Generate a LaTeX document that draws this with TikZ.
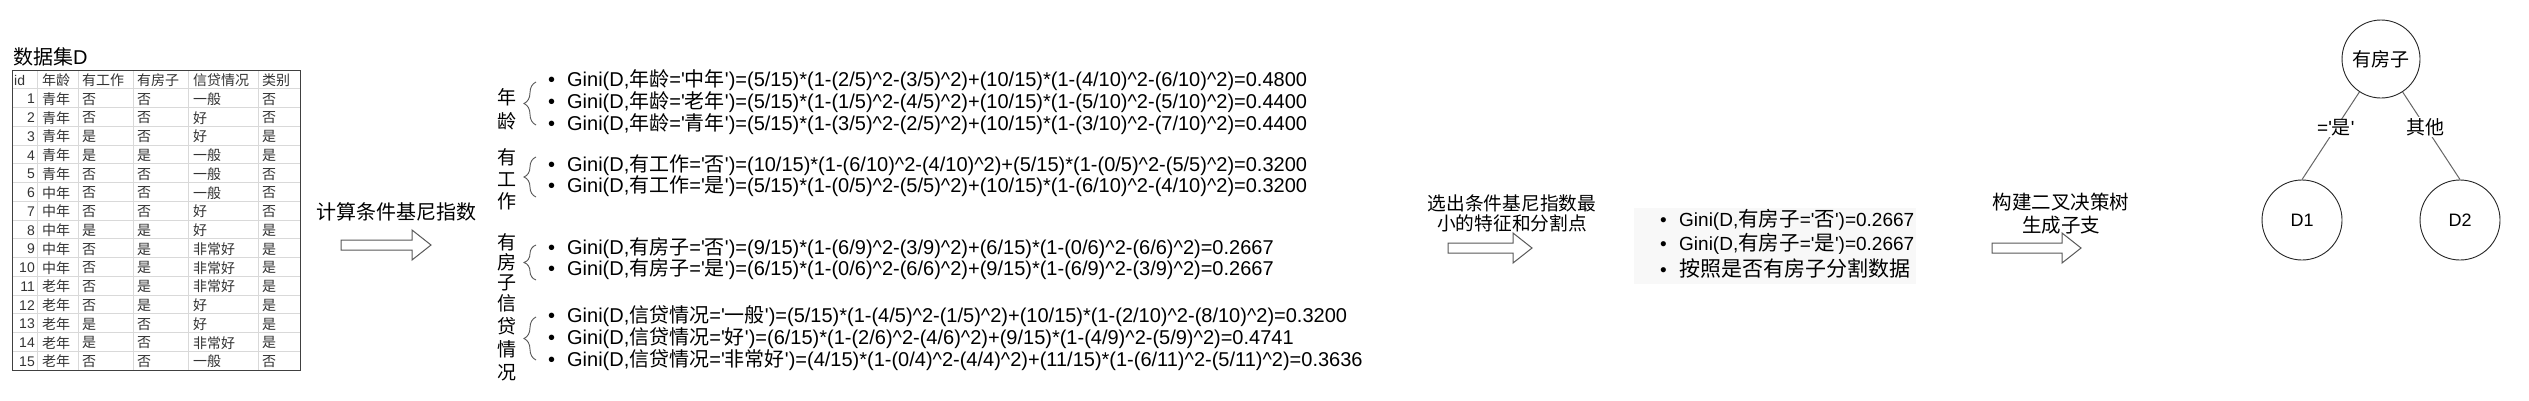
\documentclass[tikz,border=0pt]{standalone}
\usepackage{fontspec}
\setmainfont{Liberation Sans}[Ligatures=TeXOff]
\newfontfamily\cjk{Noto Sans CJK SC}
\usetikzlibrary{decorations.pathreplacing}

\newcommand{\zh}[1]{{\cjk #1}}
\newcommand{\pw}{\textasciicircum}
\newcommand{\bul}{\makebox[19pt][l]{\textbullet}}

\definecolor{tabline}{HTML}{D9D9D9}
\definecolor{tabtext}{HTML}{333333}
\definecolor{edgegray}{HTML}{666666}
\definecolor{boxbg}{HTML}{F8F8F8}

\tikzset{
  tabgrid/.style={draw=tabline, line width=0.8pt},
  tabborder/.style={draw=black!75, line width=1pt},
  tabcell/.style={anchor=west, inner sep=0pt, text=tabtext, font=\fontsize{14}{14}\cjk},
  tabnum/.style={anchor=east, inner sep=0pt, text=tabtext, font=\fontsize{14}{14}\selectfont},
  ginitext/.style={anchor=west, inner sep=0pt, font=\fontsize{20}{21}\selectfont},
  grouplabel/.style={align=center, inner sep=0pt, font=\fontsize{19}{#1}\cjk},
  groupbrace/.style={draw=black!65, line width=0.9pt, decorate, decoration={brace, amplitude=12pt}},
  blockarrow/.style={draw=black!65, line width=1pt, fill=white},
  steplabel/.style={align=center, inner sep=0pt},
  treenode/.style={circle, draw=black!85, line width=0.9pt, inner sep=0pt},
  treeedge/.style={draw=edgegray, line width=1pt},
  edgelabel/.style={fill=white, inner sep=1pt, font=\fontsize{19}{19}\selectfont},
}

\begin{document}
\begin{tikzpicture}[x=1pt, y=-1pt]
    \fill[white] (0,0) rectangle (2529,400);
    \useasboundingbox (0,0) rectangle (2529,400);

    % Data set table
    \node[anchor=west, inner sep=0pt, font=\fontsize{20}{20}\selectfont] (title) at (13,57) {\zh{数据集}D};
    \foreach \r in {1,...,15} \draw[tabgrid] (12,{70+18.75*\r}) -- (300,{70+18.75*\r});
    \foreach \c in {37,78,133,188,258} \draw[tabgrid] (\c,70) -- (\c,370);
    \draw[tabborder] (12,70) rectangle (300,370);
    \node[tabnum, anchor=west] (hid) at (14,80.4) {id};
    \node[tabcell] (hage) at (42,80.4) {年龄};
    \node[tabcell] (hwork) at (82,80.4) {有工作};
    \node[tabcell] (hhouse) at (137,80.4) {有房子};
    \node[tabcell] (hcredit) at (193,80.4) {信贷情况};
    \node[tabcell] (hclass) at (262,80.4) {类别};
    \foreach \a/\b/\c/\d/\e [count=\r] in {青年/否/否/一般/否, 青年/否/否/好/否, 青年/是/否/好/是,
        青年/是/是/一般/是, 青年/否/否/一般/否, 中年/否/否/一般/否, 中年/否/否/好/否,
        中年/是/是/好/是, 中年/否/是/非常好/是, 中年/否/是/非常好/是, 老年/否/是/非常好/是,
        老年/否/是/好/是, 老年/是/否/好/是, 老年/是/否/非常好/是, 老年/否/否/一般/否} {
      \node[tabnum] (n\r) at (35,{71+18.75*(\r+0.5)}) {\r};
      \node[tabcell] (a\r) at (42,{71+18.75*(\r+0.5)}) {\a};
      \node[tabcell] (b\r) at (82,{71+18.75*(\r+0.5)}) {\b};
      \node[tabcell] (c\r) at (137,{71+18.75*(\r+0.5)}) {\c};
      \node[tabcell] (d\r) at (193,{71+18.75*(\r+0.5)}) {\d};
      \node[tabcell] (e\r) at (262,{71+18.75*(\r+0.5)}) {\e};
    }

    % Block arrows
    \foreach \ax/\ay/\al in {341/245/90, 1448/248/84, 1992/248/89}
      \draw[blockarrow] (\ax,\ay-5) -- ++({\al-19},0) -- ++(0,-10) -- ++(19,15) -- ++(-19,15)
        -- ++(0,-10) -- ++({19-\al},0) -- cycle;
    \node[steplabel, font=\fontsize{20}{21}\cjk] (step1) at (396,212) {计算条件基尼指数};
    \node[steplabel, font=\fontsize{18.7}{20}\cjk] (step2) at (1512,213) {选出条件基尼指数最\\小的特征和分割点};
    \node[steplabel, font=\fontsize{19.5}{23}\cjk] (step3) at (2061,213.5) {构建二叉决策树\\生成子支};

    % Conditional Gini indices
    \node[grouplabel=24] (lage) at (507,109) {年\\龄};
    \draw[groupbrace] (536,125) -- (536,82);
    \node[ginitext] (g1) at (548,80) {\bul Gini(D,\zh{年龄}='\zh{中年}')=(5/15)*(1-(2/5)\pw2-(3/5)\pw2)+(10/15)*(1-(4/10)\pw2-(6/10)\pw2)=0.4800};
    \node[ginitext] (g2) at (548,102) {\bul Gini(D,\zh{年龄}='\zh{老年}')=(5/15)*(1-(1/5)\pw2-(4/5)\pw2)+(10/15)*(1-(5/10)\pw2-(5/10)\pw2)=0.4400};
    \node[ginitext] (g3) at (548,124) {\bul Gini(D,\zh{年龄}='\zh{青年}')=(5/15)*(1-(3/5)\pw2-(2/5)\pw2)+(10/15)*(1-(3/10)\pw2-(7/10)\pw2)=0.4400};

    \node[grouplabel=22] (lwork) at (507,179) {有\\工\\作};
    \draw[groupbrace] (536,197) -- (536,157);
    \node[ginitext] (g4) at (548,165) {\bul Gini(D,\zh{有工作}='\zh{否}')=(10/15)*(1-(6/10)\pw2-(4/10)\pw2)+(5/15)*(1-(0/5)\pw2-(5/5)\pw2)=0.3200};
    \node[ginitext] (g5) at (548,186) {\bul Gini(D,\zh{有工作}='\zh{是}')=(5/15)*(1-(0/5)\pw2-(5/5)\pw2)+(10/15)*(1-(6/10)\pw2-(4/10)\pw2)=0.3200};

    \node[grouplabel=20] (lhouse) at (507,262) {有\\房\\子};
    \draw[groupbrace] (536,280) -- (536,245);
    \node[ginitext] (g6) at (548,248) {\bul Gini(D,\zh{有房子}='\zh{否}')=(9/15)*(1-(6/9)\pw2-(3/9)\pw2)+(6/15)*(1-(0/6)\pw2-(6/6)\pw2)=0.2667};
    \node[ginitext] (g7) at (548,269) {\bul Gini(D,\zh{有房子}='\zh{是}')=(6/15)*(1-(0/6)\pw2-(6/6)\pw2)+(9/15)*(1-(6/9)\pw2-(3/9)\pw2)=0.2667};

    \node[grouplabel=23] (lcredit) at (507,338) {信\\贷\\情\\况};
    \draw[groupbrace] (536,360) -- (536,317);
    \node[ginitext] (g8) at (548,316) {\bul Gini(D,\zh{信贷情况}='\zh{一般}')=(5/15)*(1-(4/5)\pw2-(1/5)\pw2)+(10/15)*(1-(2/10)\pw2-(8/10)\pw2)=0.3200};
    \node[ginitext] (g9) at (548,338) {\bul Gini(D,\zh{信贷情况}='\zh{好}')=(6/15)*(1-(2/6)\pw2-(4/6)\pw2)+(9/15)*(1-(4/9)\pw2-(5/9)\pw2)=0.4741};
    \node[ginitext] (g10) at (548,360) {\bul Gini(D,\zh{信贷情况}='\zh{非常好}')=(4/15)*(1-(0/4)\pw2-(4/4)\pw2)+(11/15)*(1-(6/11)\pw2-(5/11)\pw2)=0.3636};

    % Chosen split
    \fill[boxbg] (1634,208) rectangle (1916,284);
    \node[ginitext, font=\fontsize{19}{19}\selectfont] (s1) at (1660,220) {\bul Gini(D,{\fontsize{20.5}{20.5}\cjk 有房子}='{\fontsize{20.5}{20.5}\cjk 否}')=0.2667};
    \node[ginitext, font=\fontsize{19}{19}\selectfont] (s2) at (1660,244) {\bul Gini(D,{\fontsize{20.5}{20.5}\cjk 有房子}='{\fontsize{20.5}{20.5}\cjk 是}')=0.2667};
    \node[ginitext, font=\fontsize{19}{19}\selectfont] (s3) at (1660,269) {\bul {\fontsize{21}{21}\cjk 按照是否有房子分割数据}};

    % Decision tree
    \node[treenode, minimum size=78pt, font=\fontsize{19}{19}\cjk] (root) at (2381,59) {有房子};
    \node[treenode, minimum size=80pt, font=\fontsize{18}{18}\selectfont] (d1) at (2302,220) {D1};
    \node[treenode, minimum size=80pt, font=\fontsize{18}{18}\selectfont] (d2) at (2460,220) {D2};
    \draw[treeedge] (root) -- node[edgelabel, pos=0.41] (lyes) {='\zh{是}'} (d1.north);
    \draw[treeedge] (root) -- node[edgelabel, pos=0.4] (lelse) {\zh{其他}} (d2.north);
\end{tikzpicture}
\end{document}
